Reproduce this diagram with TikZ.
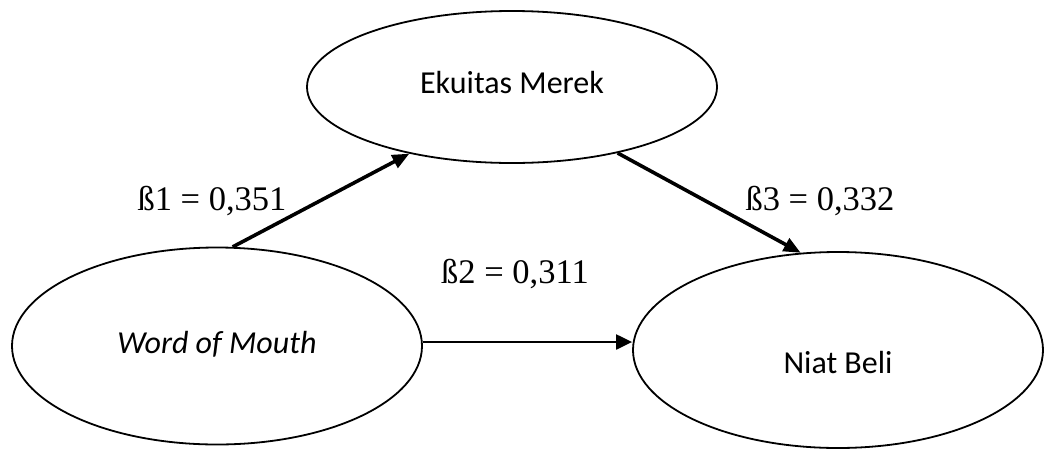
\documentclass[tikz,border=0pt]{standalone}
\usepackage{fontspec}
\setmainfont{Liberation Serif}
\newfontfamily\calibri{Carlito}
\usepackage{tikz}
\usetikzlibrary{shapes.geometric,arrows.meta}

\begin{document}
\begin{tikzpicture}[x=1pt, y=-1pt,
    var/.style={draw, ellipse, line width=1.8pt, minimum width=410pt, inner sep=0pt},
    vartext/.style={font=\calibri\fontsize{32}{38}\selectfont, anchor=base},
    coef/.style={font=\fontsize{34.5}{40}\selectfont, anchor=base},
    path/.style={line width=3.6pt, -{Triangle[length=17pt, width=14pt]}},
    direct/.style={line width=2.2pt, -{Triangle[length=16pt, width=15pt]}}]
    \useasboundingbox (0,0) rectangle (1045,448);

    \draw
    (512,87)node[var, minimum height=152pt, label={[vartext, yshift=4pt]center:Ekuitas Merek}](ekuitas){}
    (217,346)node[var, minimum height=197pt, label={[vartext, yshift=2pt]center:\itshape Word of Mouth}](wom){}
    (838,350)node[var, minimum height=196pt, label={[vartext, yshift=-13pt]center:Niat Beli}](niat){}
    ;

    % koefisien jalur
    \draw[path] (wom.81) -- (ekuitas.213);
    \draw[path] (ekuitas.328) -- (niat.111);
    \draw[direct] ([yshift=4pt]wom.east) -- ([yshift=4pt]wom.east -| niat.west);

    \draw
    (212,210)node[coef](b1){ß1 = 0,351}
    (820,210)node[coef](b3){ß3 = 0,332}
    (515,283)node[coef](b2){ß2 = 0,311}
    ;
\end{tikzpicture}
\end{document}
